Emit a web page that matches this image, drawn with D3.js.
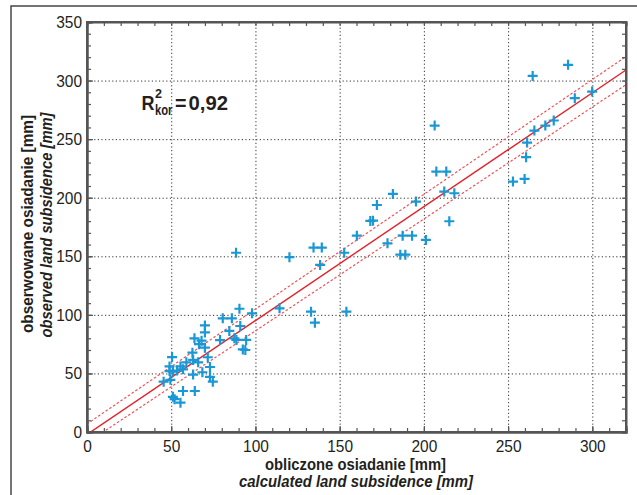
<!DOCTYPE html>
<html>
<head>
<meta charset="utf-8">
<script src="https://cdnjs.cloudflare.com/ajax/libs/d3/7.8.5/d3.min.js"></script>
<style>
  body { margin: 0; background: #fff; }
  text { font-family: 'Liberation Sans', Arial, sans-serif; fill: #231f20; }
</style>
</head>
<body>
<div id="chart"></div>
<script>
// calculated (x) vs observed (y) land subsidence, mm
const calcX = [
  45.5, 49.5, 50.5, 49, 49, 51, 53.5, 55.5, 57, 59,
  51, 52, 55.5, 57, 64, 63, 66, 63, 62.6, 63.8,
  66.5, 68, 68.5, 70, 70, 70, 71.7, 73, 73, 74.7,
  79, 80.6, 86, 84.5, 87.5, 88.7, 91, 90.5, 92.5, 94,
  94.5, 98, 88.5, 114.3, 120.2, 133, 135.3, 134.5, 139.4, 138.4,
  152.7, 154, 160.2, 168.2, 169.8, 172.1, 178.4, 181.6, 186, 187.4,
  189, 193, 195.3, 201.2, 206.4, 207.4, 213.3, 212.1, 215.1, 218.1,
  252.9, 259.8, 260.7, 261.3, 264.6, 265.6, 272.1, 277.1, 285.6, 289.6,
  299.9
];
const obsY = [
  43, 44.5, 64, 56, 52, 51.5, 52.5, 56, 53.5, 59.5,
  30, 28, 25, 35, 35, 49, 59.5, 61.5, 67.7, 80,
  75, 78, 51, 72, 85, 91, 63.8, 55.5, 47, 43,
  78.5, 97, 97, 86.3, 80, 78.6, 90.5, 105.2, 70.5, 70,
  78.6, 101.3, 153, 105.6, 149.2, 102.7, 93.3, 157.4, 157.4, 142.6,
  153, 102.7, 167.6, 180.2, 180.4, 193.8, 161.1, 203.2, 151.4, 167.6,
  151.4, 167.6, 196.7, 164, 261.6, 222.3, 222.3, 205.2, 179.9, 203.8,
  213.8, 216, 234.6, 247.1, 304, 257.3, 261.6, 265.9, 313.4, 285,
  290.6
];

// regression line and its band
const fitX = [0, 320];
const fitY = [-2.1, 309];
const bandUpperY = [6.9, 320.5];
const bandLowerY = [-9.2, 296.5];

const xTicks = [0, 50, 100, 150, 200, 250, 300];
const yTicks = [0, 50, 100, 150, 200, 250, 300, 350];

const margin = { top: 22, right: 11, bottom: 63, left: 87 };
const WIDTH = 637 - margin.left - margin.right;
const HEIGHT = 495 - margin.top - margin.bottom;

const svg = d3
  .select('#chart')
  .append('svg')
  .attr('width', 637)
  .attr('height', 495);

// outer frame
svg
  .append('rect')
  .attr('x', 11)
  .attr('y', 6)
  .attr('width', 640)
  .attr('height', 500)
  .attr('fill', 'none')
  .attr('stroke', '#3a3a3a')
  .attr('stroke-width', 1.4);

const plot = svg
  .append('g')
  .attr('transform', `translate(${margin.left}, ${margin.top})`);

const xScale = d3.scaleLinear().domain([0, 320]).range([0, WIDTH]);
const yScale = d3.scaleLinear().domain([0, 350]).range([HEIGHT, 0]);

svg
  .append('defs')
  .append('clipPath')
  .attr('id', 'clip')
  .append('rect')
  .attr('width', WIDTH)
  .attr('height', HEIGHT);

// dotted grid
const grid = plot.append('g').attr('class', 'grid');
grid
  .append('g')
  .attr('transform', `translate(0,${HEIGHT})`)
  .call(d3.axisBottom(xScale).tickValues(xTicks.slice(1)).tickSize(-HEIGHT).tickFormat(''));
grid
  .append('g')
  .call(d3.axisLeft(yScale).tickValues(yTicks.slice(1, -1)).tickSize(-WIDTH).tickFormat(''));
grid.selectAll('.domain').remove();
grid
  .selectAll('line')
  .attr('stroke', '#333')
  .attr('stroke-width', 1)
  .attr('stroke-dasharray', '1.2,2.4');

// regression + band
const lines = plot.append('g').attr('clip-path', 'url(#clip)');
const lineGen = d3
  .line()
  .x(d => xScale(d[0]))
  .y(d => yScale(d[1]));

lines
  .append('path')
  .attr('d', lineGen(fitX.map((x, i) => [x, bandUpperY[i]])))
  .attr('fill', 'none')
  .attr('stroke', '#f0525a')
  .attr('stroke-width', 1.2)
  .attr('stroke-dasharray', '2.5,2');
lines
  .append('path')
  .attr('d', lineGen(fitX.map((x, i) => [x, bandLowerY[i]])))
  .attr('fill', 'none')
  .attr('stroke', '#f0525a')
  .attr('stroke-width', 1.2)
  .attr('stroke-dasharray', '2.5,2');
lines
  .append('path')
  .attr('d', lineGen(fitX.map((x, i) => [x, fitY[i]])))
  .attr('fill', 'none')
  .attr('stroke', '#e4202a')
  .attr('stroke-width', 1.4);

// + markers
plot
  .selectAll('.pt')
  .data(calcX.map((x, i) => ({ x, y: obsY[i] })))
  .enter()
  .append('path')
  .attr('class', 'pt')
  .attr('d', 'M-5,0H5M0,-5V5')
  .attr('transform', d => `translate(${xScale(d.x)},${yScale(d.y)})`)
  .attr('stroke', '#1a97d5')
  .attr('stroke-width', 2.2)
  .attr('fill', 'none');

// axes: ticks pointing inward on all four sides
const minor = d3.range(0, 321, 10);
const minorY = d3.range(0, 351, 10);
const axes = plot.append('g').attr('class', 'axes');

axes
  .append('g')
  .attr('transform', `translate(0,${HEIGHT})`)
  .call(d3.axisBottom(xScale).tickValues(minor).tickSize(-4).tickFormat(''));
axes
  .append('g')
  .call(d3.axisTop(xScale).tickValues(minor).tickSize(-4).tickFormat(''));
axes
  .append('g')
  .call(d3.axisLeft(yScale).tickValues(minorY).tickSize(-4).tickFormat(''));
axes
  .append('g')
  .attr('transform', `translate(${WIDTH},0)`)
  .call(d3.axisRight(yScale).tickValues(minorY).tickSize(-4).tickFormat(''));

axes
  .append('g')
  .attr('transform', `translate(0,${HEIGHT})`)
  .call(d3.axisBottom(xScale).tickValues(xTicks).tickSize(-6).tickPadding(8));
axes
  .append('g')
  .call(d3.axisLeft(yScale).tickValues(yTicks).tickSize(-6).tickPadding(5));

axes.selectAll('.domain').attr('stroke', '#555').attr('stroke-width', 2);
axes.selectAll('.tick line').attr('stroke', '#555').attr('stroke-width', 1.2);
// condensed look: squeeze each label to the width seen in the picture
axes
  .selectAll('.tick text')
  .style('font-size', '17px')
  .style('font-family', "'Liberation Sans', Arial, sans-serif")
  .attr('fill', '#231f20')
  .attr('textLength', function () {
    return this.textContent.length * 8.6;
  })
  .attr('lengthAdjust', 'spacingAndGlyphs');

// plot frame
plot
  .append('rect')
  .attr('width', WIDTH)
  .attr('height', HEIGHT)
  .attr('fill', 'none')
  .attr('stroke', '#555')
  .attr('stroke-width', 2);

// axis titles
const title = (x, y, len, txt, italic, rot) =>
  svg
    .append('text')
    .attr('transform', rot ? `translate(${x},${y}) rotate(-90)` : `translate(${x},${y})`)
    .attr('text-anchor', 'middle')
    .attr('textLength', len)
    .attr('lengthAdjust', 'spacingAndGlyphs')
    .style('font-size', '16px')
    .style('font-weight', 'bold')
    .style('font-style', italic ? 'italic' : 'normal')
    .text(txt);

title(355.5, 470, 181, 'obliczone osiadanie [mm]', false, false);
title(356, 487, 234, 'calculated land subsidence [mm]', true, false);
title(33, 224, 218, 'obserwowane osiadanie [mm]', false, true);
title(52, 225, 225, 'observed land subsidence [mm]', true, true);

// R^2 label
const r2 = (x, y, size, len, txt) =>
  svg
    .append('text')
    .attr('x', x)
    .attr('y', y)
    .attr('textLength', len)
    .attr('lengthAdjust', 'spacingAndGlyphs')
    .style('font-size', size)
    .style('font-weight', 'bold')
    .text(txt);

r2(141.5, 110, '20px', 13, 'R');
r2(155, 98, '13px', 7, '2');
r2(155, 115, '14px', 17.5, 'kor');
r2(175, 110, '20px', 11.5, '=');
r2(188.5, 110, '20px', 39.5, '0,92');
</script>
</body>
</html>
